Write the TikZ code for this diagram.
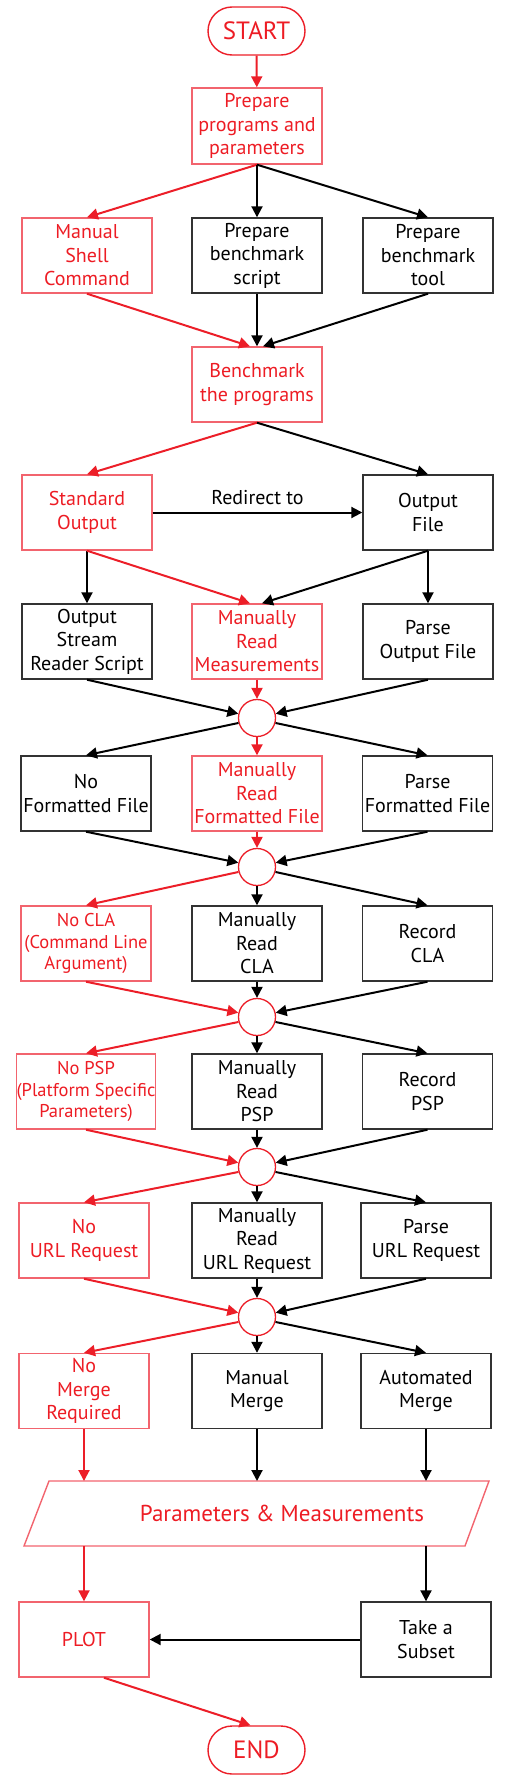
\documentclass[tikz,border=0pt]{standalone}
\usepackage{fontspec}
\setmainfont{PT Sans}
\usetikzlibrary{arrows.meta,calc}
\definecolor{rtext}{RGB}{237,28,36}
\definecolor{rline}{RGB}{236,30,40}
\definecolor{rborder}{RGB}{242,100,110}
\definecolor{kborder}{RGB}{50,50,50}
\newcommand{\boxfont}{\fontsize{20}{23.5}\selectfont}
\newcommand{\smallboxfont}{\fontsize{18.5}{21.7}\selectfont}
\tikzset{
  basebox/.style={line width=1.4pt, minimum width=130pt, minimum height=75pt, inner sep=0pt, align=center, font=\boxfont},
  rbox/.style={basebox, draw=rborder, text=rtext},
  kbox/.style={basebox, draw=kborder, text=black},
  term/.style={draw=rline, text=rtext, line width=1.4pt, rounded corners=24pt, minimum width=97pt, minimum height=48pt, inner sep=0pt, font=\fontsize{25}{28}\selectfont},
  junc/.style={circle, draw=rline, fill=white, line width=1.3pt, minimum size=37pt, inner sep=0pt},
  ra/.style={draw=rline, line width=2pt, -{Triangle[length=11pt,width=11pt]}},
  ka/.style={draw=black, line width=2pt, -{Triangle[length=11pt,width=11pt]}}
}
\begin{document}
\begin{tikzpicture}[x=1pt,y=-1pt]
\useasboundingbox (0,0) rectangle (504,1780);
% nodes
\node[term] (start) at (256.5,31) {START};
\node[rbox, minimum height=76pt] (prep) at (257,126) {Prepare\\programs and\\parameters};
\node[rbox] (msc) at (87,255.5) {Manual\\Shell\\Command};
\node[kbox] (pbs) at (257,255.5) {Prepare\\benchmark\\script};
\node[kbox] (pbt) at (428,255.5) {Prepare\\benchmark\\tool};
\node[rbox] (bench) at (257,384.5) {Benchmark\\the programs};
\node[rbox] (sto) at (87,512.5) {Standard\\Output};
\node[kbox] (ofile) at (428,512.5) {Output\\File};
\node[kbox] (osr) at (87,641.5) {Output\\Stream\\Reader Script};
\node[rbox] (mrm) at (257,641.5) {Manually\\Read\\Measurements};
\node[kbox] (pof) at (428,641.5) {Parse\\Output File};
\node[junc] (c1) at (257,718) {};
\node[kbox] (nff) at (86,793.5) {No\\Formatted File};
\node[rbox] (mrf) at (257,793.5) {Manually\\Read\\Formatted File};
\node[kbox] (pff) at (427.5,793.5) {Parse\\Formatted File};
\node[junc] (c2) at (257,867) {};
\node[rbox, font=\smallboxfont] (ncla) at (86,943.5) {No CLA\\(Command Line\\Argument)};
\node[kbox] (mcla) at (257,943.5) {Manually\\Read\\CLA};
\node[kbox] (rcla) at (427.5,943.5) {Record\\CLA};
\node[junc] (c3) at (257,1017) {};
\node[rbox, font=\smallboxfont] (npsp) at (86,1091.5) {No PSP\\(Platform Specific\\Parameters)};
\node[kbox] (mpsp) at (257,1091.5) {Manually\\Read\\PSP};
\node[kbox] (rpsp) at (427.5,1091.5) {Record\\PSP};
\node[junc] (c4) at (257,1167) {};
\node[rbox] (nurl) at (84,1240.5) {No\\URL Request};
\node[kbox] (murl) at (257,1240.5) {Manually\\Read\\URL Request};
\node[kbox] (purl) at (426,1240.5) {Parse\\URL Request};
\node[junc] (c5) at (257,1317) {};
\node[rbox] (nmr) at (84,1391) {No\\Merge\\Required};
\node[kbox] (mm) at (257,1391) {Manual\\Merge};
\node[kbox] (am) at (426,1391) {Automated\\Merge};
% parallelogram
\coordinate (ptl) at (49,1481);
\coordinate (ptr) at (489,1481);
\coordinate (pbr) at (465,1546);
\coordinate (pbl) at (24,1546);
\draw[draw=rborder, line width=1.4pt] (ptl) -- (ptr) -- (pbr) -- (pbl) -- cycle;
\node[text=rtext, font=\fontsize{23}{26}\selectfont, inner sep=0pt] (para) at (282,1513.5) {Parameters \& Measurements};
\node[rbox] (plot) at (84,1639.5) {PLOT};
\node[kbox] (tas) at (426,1639.5) {Take a\\Subset};
\node[term] (endn) at (256.5,1750) {END};
% connectors
\draw[ra] (start) -- (prep);
\draw[ra] (prep.south) -- (msc.north);
\draw[ka] (prep.south) -- (pbs.north);
\draw[ka] (prep.south) -- (pbt.north);
\draw[ra] (msc.south) -- ([xshift=-7pt]bench.north);
\draw[ka] (pbs.south) -- (bench.north);
\draw[ka] (pbt.south) -- ([xshift=6pt]bench.north);
\draw[ra] (bench.south) -- (sto.north);
\draw[ka] (bench.south) -- (ofile.north);
\draw[ka] (sto.east) -- node[midway, above=3pt, font=\boxfont, text=black] {Redirect to} (ofile.west);
\draw[ka] (sto.south) -- (osr.north);
\draw[ra] (sto.south) -- ([xshift=-7pt]mrm.north);
\draw[ka] (ofile.south) -- ([xshift=5pt]mrm.north);
\draw[ka] (ofile.south) -- (pof.north);
% C1
\draw[ka] (osr.south) -- (c1.167);
\draw[ra] (mrm.south) -- (c1.north);
\draw[ka] (pof.south) -- (c1.13);
\draw[ka] (c1.195) -- (nff.north);
\draw[ra] (c1.south) -- (mrf.north);
\draw[ka] (c1.-15) -- (pff.north);
% C2
\draw[ka] (nff.south) -- (c2.167);
\draw[ra] (mrf.south) -- (c2.north);
\draw[ka] (pff.south) -- (c2.13);
\draw[ra] (c2.195) -- (ncla.north);
\draw[ka] (c2.south) -- (mcla.north);
\draw[ka] (c2.-15) -- (rcla.north);
% C3
\draw[ra] (ncla.south) -- (c3.167);
\draw[ka] (mcla.south) -- (c3.north);
\draw[ka] (rcla.south) -- (c3.13);
\draw[ra] (c3.195) -- (npsp.north);
\draw[ka] (c3.south) -- (mpsp.north);
\draw[ka] (c3.-15) -- (rpsp.north);
% C4
\draw[ra] (npsp.south) -- (c4.167);
\draw[ka] (mpsp.south) -- (c4.north);
\draw[ka] (rpsp.south) -- (c4.13);
\draw[ra] (c4.195) -- (nurl.north);
\draw[ka] (c4.south) -- (murl.north);
\draw[ka] (c4.-15) -- (purl.north);
% C5
\draw[ra] (nurl.south) -- (c5.167);
\draw[ka] (murl.south) -- (c5.north);
\draw[ka] (purl.south) -- (c5.13);
\draw[ra] (c5.195) -- (nmr.north);
\draw[ka] (c5.south) -- (mm.north);
\draw[ka] (c5.-15) -- (am.north);
% to parallelogram
\draw[ra] (nmr.south) -- (nmr.south |- ptl);
\draw[ka] (mm.south) -- (mm.south |- ptl);
\draw[ka] (am.south) -- (am.south |- ptl);
\draw[ra] (plot.north |- pbl) -- (plot.north);
\draw[ka] (tas.north |- pbl) -- (tas.north);
\draw[ka] (tas.west) -- (plot.east);
\draw[ra] ([xshift=20pt]plot.south) -- ([xshift=-6pt]endn.north);
\end{tikzpicture}
\end{document}
